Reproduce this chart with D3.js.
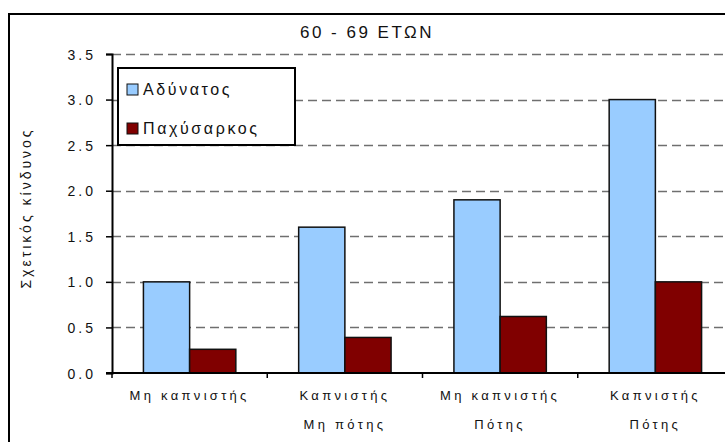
<!DOCTYPE html>
<html>
<head>
<meta charset="utf-8">
<script src="https://cdn.jsdelivr.net/npm/d3@7"></script>
<style>
  html, body { margin: 0; padding: 0; background: #fff; }
  svg { display: block; }
  text { font-family: "Liberation Sans", Arial, sans-serif; fill: #111; }
</style>
</head>
<body>
<svg id="chart" width="725" height="442"></svg>
<script>
// Relative risk by smoking / drinking status, ages 60-69
const categories = [
  ["Μη καπνιστής"],
  ["Καπνιστής", "Μη πότης"],
  ["Μη καπνιστής", "Πότης"],
  ["Καπνιστής", "Πότης"]
];
const seriesNames = ["Αδύνατος", "Παχύσαρκος"];
const thinValues = [1.0, 1.6, 1.9, 3.0];
const obeseValues = [0.26, 0.39, 0.62, 1.0];
const yTicks = [0, 0.5, 1.0, 1.5, 2.0, 2.5, 3.0, 3.5];
const colors = ["#99ccff", "#800000"];

const svg = d3.select("#chart");

// Outer chart frame (runs past the right and bottom edges)
svg.append("rect")
  .attr("x", 9).attr("y", 14)
  .attr("width", 760).attr("height", 470)
  .attr("fill", "#fff")
  .attr("stroke", "#000").attr("stroke-width", 2);

const plot = { left: 112, top: 54, right: 733, bottom: 373 };

const x = d3.scaleBand()
  .domain(d3.range(categories.length))
  .range([plot.left, plot.right]);

const x1 = d3.scaleBand()
  .domain(d3.range(seriesNames.length))
  .range([0, x.bandwidth()])
  .paddingInner(0)
  .paddingOuter(0.68);

const y = d3.scaleLinear().domain([0, 3.5]).range([plot.bottom, plot.top]);

// Dashed gridlines
svg.append("g")
  .selectAll("line")
  .data(yTicks.filter(d => d > 0))
  .join("line")
  .attr("x1", plot.left).attr("x2", 725)
  .attr("y1", d => Math.round(y(d)) + 0.5).attr("y2", d => Math.round(y(d)) + 0.5)
  .attr("stroke", "#6f6f6f")
  .attr("stroke-width", 1.5)
  .attr("stroke-dasharray", "9,5");

// Bars
const rows = categories.map((c, i) => [thinValues[i], obeseValues[i]]);
const groups = svg.append("g")
  .selectAll("g")
  .data(rows)
  .join("g")
  .attr("transform", (d, i) => `translate(${x(i)},0)`);

groups.selectAll("rect")
  .data(d => d.map((v, s) => ({ v, s })))
  .join("rect")
  .attr("x", d => x1(d.s))
  .attr("width", x1.bandwidth())
  .attr("y", d => y(d.v))
  .attr("height", d => y(0) - y(d.v))
  .attr("fill", d => colors[d.s])
  .attr("stroke", "#111")
  .attr("stroke-width", 1.5);

// Y axis
const yAxis = d3.axisLeft(y)
  .tickValues(yTicks)
  .tickFormat(d3.format(".1f"))
  .tickSize(6)
  .tickPadding(10);

const gy = svg.append("g")
  .attr("transform", `translate(${plot.left},0)`)
  .call(yAxis);
gy.select(".domain").attr("stroke", "#000").attr("stroke-width", 2);
gy.selectAll(".tick line").attr("stroke", "#000").attr("stroke-width", 1.5);
gy.selectAll(".tick text")
  .attr("font-size", 14)
  .attr("letter-spacing", 3)
  .attr("dy", "0.36em")
  .style("font-family", "'Liberation Sans', Arial, sans-serif")
  .attr("fill", "#111");

// X axis line with boundary ticks
svg.append("line")
  .attr("x1", plot.left - 6).attr("x2", 725)
  .attr("y1", plot.bottom).attr("y2", plot.bottom)
  .attr("stroke", "#000").attr("stroke-width", 2);

svg.append("g")
  .selectAll("line")
  .data(d3.range(categories.length))
  .join("line")
  .attr("x1", i => x(i)).attr("x2", i => x(i))
  .attr("y1", plot.bottom).attr("y2", plot.bottom + 5)
  .attr("stroke", "#000").attr("stroke-width", 1.5);

// Category labels
const catLabels = svg.append("g")
  .selectAll("text")
  .data(categories)
  .join("text")
  .attr("text-anchor", "middle")
  .attr("font-size", 13)
  .attr("letter-spacing", 3.3)
  .attr("x", (d, i) => x(i) + x.bandwidth() / 2)
  .attr("y", 400);
catLabels.selectAll("tspan")
  .data(d => d)
  .join("tspan")
  .attr("x", function () { return d3.select(this.parentNode).attr("x"); })
  .attr("dy", (d, i) => i === 0 ? 0 : 29)
  .text(d => d);

// Title
svg.append("text")
  .attr("x", 367).attr("y", 38)
  .attr("text-anchor", "middle")
  .attr("font-size", 17)
  .attr("letter-spacing", 2.5)
  .text("60 - 69 ΕΤΩΝ");

// Y axis title
svg.append("text")
  .attr("transform", "translate(31,208) rotate(-90)")
  .attr("text-anchor", "middle")
  .attr("font-size", 14)
  .attr("letter-spacing", 3)
  .text("Σχετικός κίνδυνος");

// Legend
const legend = svg.append("g").attr("transform", "translate(118,68)");
legend.append("rect")
  .attr("width", 177).attr("height", 77)
  .attr("fill", "#fff")
  .attr("stroke", "#000").attr("stroke-width", 2);
const items = legend.selectAll("g.item")
  .data(seriesNames)
  .join("g")
  .attr("class", "item")
  .attr("transform", (d, i) => `translate(9,${21 + i * 39})`);
items.append("rect")
  .attr("x", 0).attr("y", -5)
  .attr("width", 11).attr("height", 11)
  .attr("fill", (d, i) => colors[i])
  .attr("stroke", "#111").attr("stroke-width", 1);
items.append("text")
  .attr("x", 16).attr("y", 6)
  .attr("font-size", 16)
  .attr("letter-spacing", 2.6)
  .text(d => d);
</script>
</body>
</html>
